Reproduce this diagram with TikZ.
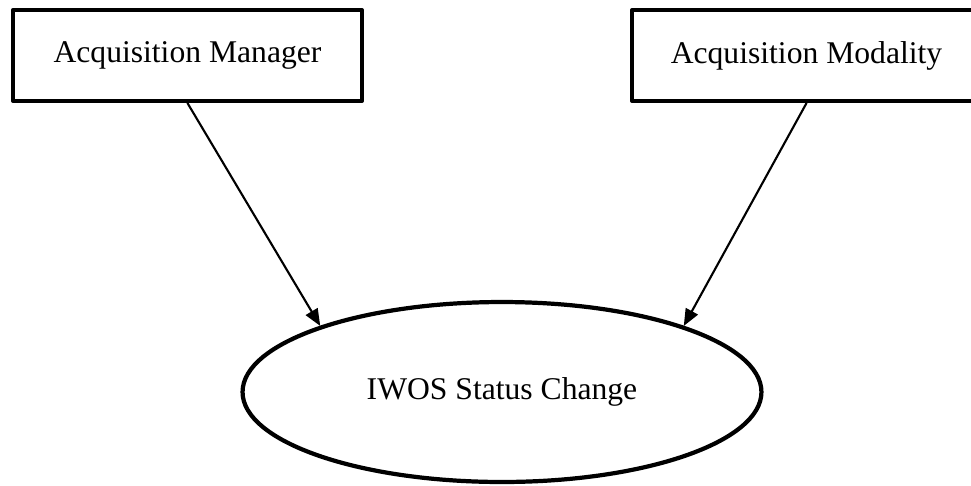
\documentclass[tikz,border=0pt]{standalone}
\usepackage{fontspec}
\setmainfont{Liberation Serif}
\usepackage{tikz}
\usetikzlibrary{arrows,shapes.geometric}

\begin{document}
\begin{tikzpicture}[line cap=round,line join=round,>=triangle 45,x=0.02cm,y=-0.02cm,
  box/.style={draw,line width=2.4pt,line cap=rect,minimum width=6.98cm,minimum height=1.82cm,font=\fontsize{18}{22}\selectfont},
  oval/.style={draw,ellipse,line width=2.4pt,minimum width=10.38cm,minimum height=3.6cm,font=\fontsize{18}{22}\selectfont}]
\useasboundingbox (0,0) rectangle (971,485);
\node[box] (mgr) at (187.5,55.5) {Acquisition Manager};
\node[box] (mod) at (806.5,55.5) {Acquisition Modality};
\node[oval] (chg) at (502,392) {IWOS Status Change};
\draw [->,line width=1.2pt] (mgr.south) -- (chg.160);
\draw [->,line width=1.2pt] (mod.south) -- (chg.20);
\end{tikzpicture}
\end{document}
